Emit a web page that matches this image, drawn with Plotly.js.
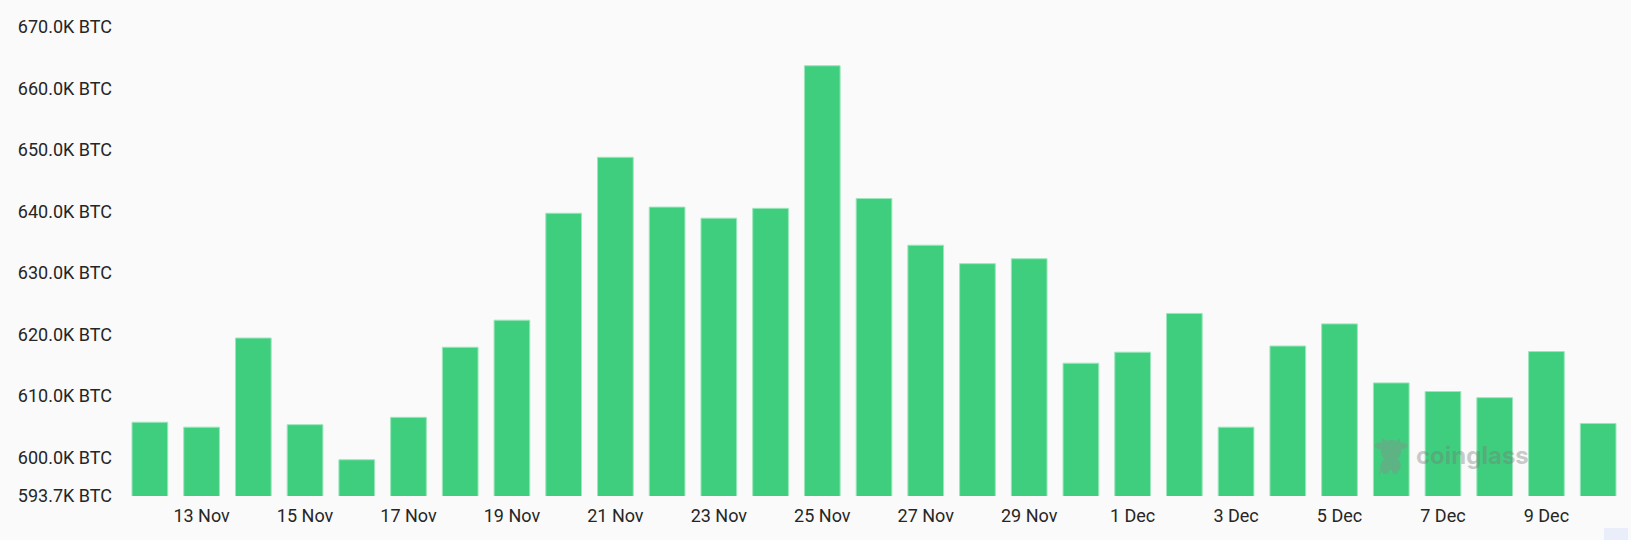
<!DOCTYPE html>
<html>
<head>
<meta charset="utf-8">
<script src="https://cdn.plot.ly/plotly-3.0.1.min.js"></script>
<style>
  html, body { margin: 0; padding: 0; background: #fafafa; overflow: hidden; }
</style>
</head>
<body>
<div id="chart" style="width:1631px;height:540px"></div>
<script>
/* ─── Data ──────────────────────────────────────────────── */
const days = [
  "12 Nov", "13 Nov", "14 Nov", "15 Nov", "16 Nov", "17 Nov", "18 Nov", "19 Nov",
  "20 Nov", "21 Nov", "22 Nov", "23 Nov", "24 Nov", "25 Nov", "26 Nov", "27 Nov",
  "28 Nov", "29 Nov", "30 Nov", "1 Dec", "2 Dec", "3 Dec", "4 Dec", "5 Dec",
  "6 Dec", "7 Dec", "8 Dec", "9 Dec", "10 Dec"
];
const balanceK = [
  605.7, 604.9, 619.4, 605.3, 599.6, 606.5, 617.9, 622.3,
  639.7, 648.8, 640.7, 638.9, 640.5, 663.7, 642.1, 634.5,
  631.5, 632.3, 615.3, 617.1, 623.4, 604.9, 618.1, 621.7,
  612.1, 610.7, 609.7, 617.2, 605.5
];
const yTicks = [593.7, 600, 610, 620, 630, 640, 650, 660, 670];
const xTicks = days.filter((d, i) => i % 2 === 1);

const bullLogo = "data:image/svg+xml;utf8," + encodeURIComponent(
  `<svg xmlns="http://www.w3.org/2000/svg" viewBox="0 0 36 40">
    <path fill="#8c8c8c" d="M0 9 C2 6 5 5 8 6 L9 1 C11 3 12 4 14 4 C16 3 20 3 22 4 C24 4 25 3 27 1 L28 6 C31 5 34 6 36 9
    C34 12 31 13 29 12 C29 17 27 21 25 23 C28 25 29 28 28 31 C28 33 27 34 26 34 L25 38 L20 38 L19 34 L16 34 L15 38 L10 38
    L9 35 L5 39 L7 33 C6 29 8 25 11 23 C9 21 7 17 7 12 C5 13 2 12 0 9 Z"/>
  </svg>`
);

const trace = {
  type: "bar",
  x: days,
  y: balanceK,
  width: 0.69,
  marker: { color: "#3fce7e", line: { color: "#9be6bb", width: 1 } },
  hoverinfo: "skip"
};

const layout = {
  width: 1631,
  height: 540,
  margin: { l: 124, r: 7, t: 27, b: 44 },
  paper_bgcolor: "#fafafa",
  plot_bgcolor: "#fafafa",
  font: { family: "Roboto, sans-serif", size: 18, color: "#262626" },
  showlegend: false,
  bargap: 0.31,
  xaxis: {
    type: "category",
    categoryorder: "array",
    categoryarray: days,
    range: [-0.5, days.length - 0.5],
    tickmode: "array",
    tickvals: xTicks,
    ticktext: xTicks,
    ticks: "",
    ticklabelstandoff: 7,
    showgrid: false,
    zeroline: false,
    showline: false
  },
  yaxis: {
    range: [593.7, 670],
    tickmode: "array",
    tickvals: yTicks,
    ticktext: yTicks.map(v => v.toFixed(1) + "K BTC"),
    ticks: "",
    ticklabelstandoff: 11,
    showgrid: false,
    zeroline: false,
    showline: false
  },
  annotations: [{
    text: "coinglass",
    xref: "paper", yref: "paper",
    x: 0.8987, y: 0.0855,
    xanchor: "center", yanchor: "middle",
    showarrow: false,
    font: { family: "Inter, sans-serif", size: 24, weight: 700, color: "rgba(120,120,120,0.38)" }
  }],
  images: [{
    source: bullLogo,
    xref: "paper", yref: "paper",
    x: 0.8333, y: 0.126,
    sizex: 0.0227, sizey: 0.0833,
    xanchor: "left", yanchor: "top",
    sizing: "stretch",
    opacity: 0.4,
    layer: "above"
  }],
  shapes: [{
    type: "rect",
    xref: "paper", yref: "paper",
    x0: (1604 - 124) / 1500, x1: (1628 - 124) / 1500,
    y0: (496 - 540) / 469, y1: (496 - 528) / 469,
    fillcolor: "#e9eefa",
    line: { width: 0 },
    layer: "below"
  }]
};

Plotly.newPlot("chart", [trace], layout, { displayModeBar: false, responsive: false });
</script>
</body>
</html>
